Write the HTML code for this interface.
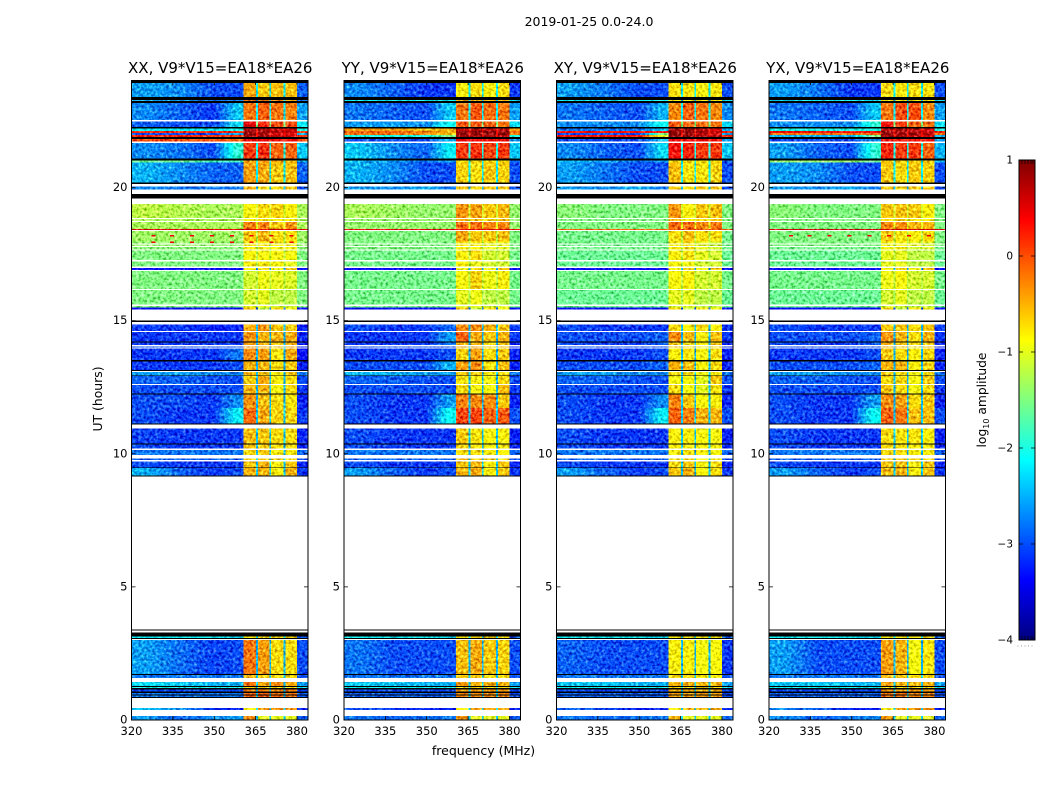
<!DOCTYPE html>
<html lang="en"><head><meta charset="utf-8"><title>2019-01-25 dynamic spectra</title>
<style>html,body{margin:0;padding:0;background:#fff}svg{display:block}text{font-family:"DejaVu Sans","Liberation Sans",sans-serif;fill:#000}</style>
</head><body>
<svg id="chart" xmlns="http://www.w3.org/2000/svg" width="1050" height="800" viewBox="0 0 1050 800">
<defs>
<filter id="speckle" x="0" y="0" width="100%" height="100%" color-interpolation-filters="sRGB">
<feTurbulence type="fractalNoise" baseFrequency="0.36" numOctaves="2" seed="7" result="n"/>
<feColorMatrix in="n" type="matrix" values="1 0 0 0 0 1 0 0 0 0 1 0 0 0 0 0 0 0 0 1" result="g"/>
<feComposite in="SourceGraphic" in2="g" operator="arithmetic" k1="0" k2="1" k3="1" k4="-0.5"/>
</filter>
</defs>
<text x="589" y="26" font-size="12.5" text-anchor="middle">2019-01-25 0.0-24.0</text>
<text transform="translate(102,399) rotate(-90)" font-size="12.4" text-anchor="middle">UT (hours)</text>
<text x="483.5" y="755" font-size="12.5" text-anchor="middle">frequency (MHz)</text>
<text transform="translate(986,400) rotate(-90)" font-size="12.3" text-anchor="middle">log<tspan font-size="8" dy="3">10</tspan><tspan dy="-3"> amplitude</tspan></text>
<g id="panels"></g>
<g id="colorbar"></g>
</svg>
<script>
const panelTitles = ["XX, V9*V15=EA18*EA26","YY, V9*V15=EA18*EA26","XY, V9*V15=EA18*EA26","YX, V9*V15=EA18*EA26"];
const xTickLabels = [320,335,350,365,380];
const yTickLabels = [0,5,10,15,20];
const colorbarTicks = [1,0,-1,-2,-3,-4];
const freqEdgesMHz = [320,331,345,355,360.6,365.2,365.8,370,370.6,375.2,375.8,380,384];
const rowEdgesUT = [24,23.925,23.399,23.286,23.249,23.174,22.535,22.486,22.272,22.208,22.122,22.047,21.972,21.897,21.822,21.72,21.671,21.082,21.006,20.94,20.18,20.131,20.03,19.932,19.756,19.58,19.38,18.854,18.817,18.742,18.704,18.441,18.404,18.366,17.965,17.904,17.852,17.803,17.765,17.679,17.641,17.277,17.228,17.025,16.976,16.901,16.864,16.188,16.15,15.613,15.549,15.5,15.425,14.997,14.948,14.854,14.61,14.573,14.223,14.185,14.085,14.02,13.998,13.96,13.521,13.472,13.146,13.108,13.07,12.946,12.92,12.62,12.582,12.255,12.218,11.72,11.144,11.091,10.941,10.392,10.355,10.19,10.141,9.953,9.814,9.765,9.701,9.491,9.465,9.176,9.138,3.406,3.354,3.294,3.129,3.08,3.042,3.005,1.728,1.69,1.577,1.427,1.277,1.239,1.202,1.146,1.071,1.014,0.958,0.92,0.864,0.826,0.451,0.376,0.15,0];
const rowKinds = ["kdkdkdwdk","dddd","kdwdk","dd","kwdwkw","dwdwddw","ddw","dwdwdwdwdwdwdw","ddwkw","dwdkdwdwdkdkw","dkdwdk","ddkw","dkdwdwdwdkdkwkwk","dkwdkdwdkdkdkdkdkwdwd"].join("").split("");
const gapLevels = [-2.2,-2.5,-2.2,-1.5,0.3,0.3,0.3,0.3,0.2,-2,-2,-2.2,-2.5,-1.1,-1.1,-1,0.5,-1.2,-1.2,-1.2,-1.2,-1.2,-1.2,-2.6,-1.2,-1.3,-1.3,-3,-2.5,-2.5,-2.5,-2.5,-2.5,-2.5,-2.4,-2.5,-2.5,-2.5,-2.4,-2.4,-2.5,-2.5,-2.4,-2.4,-2.4,-2.2,-2.5,-2.4,-2.4,-2.2,-2.4,-2.4,-2.4,-2.4,-2.4];
const levelsXX = [
[-2.6,-2.7,-3,-3,-.45,-.6,-.55,-.55,-2.9],[-2.6,-2.6,-2.8,-2.8,-.2,-.3,-.3,-.5,-2.8],[-2.7,-2.9,-3.1,-2.4,-.2,-.1,-.2,-.25,-2.6],[-2.9,-3,-3,-2.3,.5,.2,0,0,-2.2],
[-2.2,-2.2,-2.2,-2,.8,.8,.6,.6,-2],[.2,.2,.2,.2,.85,.85,.7,.6,.1],[-3,-3,-3,-2.5,.85,.8,.6,.6,-2.5],[.2,.2,.1,.1,.8,.8,.7,.6,.1],[0,0,0,-.1,.4,.4,.3,.3,0],
[-2.7,-2.8,-3,-1.9,.1,.15,-.1,-.1,-2.4],[-1.6,-1.6,-1.8,-1.8,-.4,-.3,-.4,-.5,-2.5],[-2.5,-2.7,-2.9,-2.9,-.4,-.45,-.6,-.55,-2.9],[-2.7,-2.8,-2.8,-2.8,-.5,-.7,-.7,-.6,-3],
[-1.2,-1.25,-1.3,-1.3,-.85,-.7,-.65,-.8,-1.3],[-1.3,-1.3,-1.3,-1.3,-.9,-.8,-.85,-.85,-1.3],[-1.3,-1.3,-1.3,-1.3,-.25,-.25,-.6,-.35,-1.3],[.5,.5,.5,.5,.5,.5,.5,.5,.5],
[-1.35,-1.35,-1.35,-1.35,-.6,-.5,-.7,-.7,-1.35],[-1.4,-1.4,-1.4,-1.4,-.8,-.8,-.8,-.8,-1.4],[-1.4,-1.4,-1.4,-1.4,-.8,-.8,-.85,-.85,-1.4],[-1.45,-1.45,-1.45,-1.45,-.8,-.8,-.85,-.9,-1.45],[-1.5,-1.5,-1.5,-1.5,-.85,-.85,-.85,-.9,-1.5],[-1.5,-1.5,-1.5,-1.5,-.8,-.8,-.85,-1,-1.5],
[-3.3,-3.3,-3.3,-3.3,-.9,-.7,-.9,-.6,-3.3],[-1.5,-1.5,-1.5,-1.5,-1.1,-.95,-1,-1.05,-1.5],[-1.5,-1.5,-1.5,-1.5,-1.1,-1,-1.2,-1.2,-1.5],[-1.5,-1.5,-1.5,-1.5,-1,-1,-1.1,-1.1,-1.5],[-3.4,-3.4,-3.4,-3.4,-.6,-1.2,-.7,-.9,-3.4],
[-3.1,-3.1,-3.2,-3.2,-.45,-.35,-.6,-.6,-3.2],[-3.1,-3.1,-3.1,-3.1,-.35,-.5,-.5,-.45,-3.2],[-3.1,-3.1,-3.1,-3.1,-.4,-.5,-.6,-.5,-3.2],[-3,-3,-3,-3,-.4,-.5,-.6,-.5,-3.2],[-3.1,-3.1,-3.1,-2.8,-.3,-.4,-.75,-.45,-3.3],[-3.1,-3.1,-3.1,-3,-.5,-.5,-.7,-.6,-3.2],
[-2.6,-2.6,-2.7,-2.7,-.5,-.6,-.8,-.6,-2.8],[-2.9,-2.9,-3,-3,-.65,-.45,-.8,-.7,-3],[-3,-3,-3,-3,-.5,-.5,-.85,-.7,-3.1],[-3,-3,-3.1,-2.7,-.35,-.55,-.7,-.75,-3.2],[-3,-3.1,-3.1,-2.2,-.15,-.45,-.65,-.65,-3.1],
[-3.05,-3.1,-3.1,-3.1,-.55,-.6,-.7,-.7,-3.2],[-3,-3.1,-3.1,-3.1,-.6,-.6,-.7,-.7,-3.2],[-2.8,-2.8,-2.8,-2.8,-.7,-.6,-.8,-.8,-2.9],[-2.9,-2.9,-2.9,-2.9,-.6,-.6,-.7,-.7,-3],[-3,-3.1,-3.1,-3.1,-.6,-.5,-.8,-.6,-3.2],[-2.5,-2.9,-3.1,-3,-.5,-.5,-.8,-.5,-3.1],
[-2.2,-2.2,-2.2,-2.3,-.8,-.7,-.7,-.7,-2.9],[-2.6,-2.85,-3.05,-3,-.2,-.4,-.7,-.7,-3],[-2.8,-2.8,-2.8,-2.8,-.5,-.6,-.7,-.7,-3],[-2.3,-2.4,-2.5,-2.5,-.2,-.45,-.3,-.45,-2.6],[-2,-2,-2,-2,-.7,-.7,-.7,-.7,-2.3],
[-3,-3,-3,-3,-.25,-.25,-.3,-.25,-3],[-2.8,-2.8,-2.8,-2.8,-.1,-.1,-.2,-.2,-2.9],[-2.8,-2.8,-2.8,-2.8,-.1,-.1,-.15,-.2,-2.9],[-2.4,-2.7,-3.1,-3.2,-.8,-.35,-.35,-.35,-3.2],[-2.6,-2.9,-2.7,-2.6,-.3,-1,-1,-1,-2.9]];
const levelsYY = [
[-2.7,-2.9,-3.1,-3.1,-.8,-.7,-.8,-.7,-3.1],[-2.2,-2.2,-2.2,-2.2,-.5,-.5,-.5,-.5,-2.3],[-2.8,-2.9,-3,-2.4,-.2,-.05,-.15,-.2,-2.6],[-2.6,-2.6,-2.7,-2.1,-.05,-.05,-.1,-.2,-2.3],
[-.4,-.4,-.6,-.5,.7,.75,.7,.7,-.4],[-.1,-.1,-.3,-.5,.9,.9,.9,.9,-.1],[-.2,-.2,-.3,-.6,.9,.9,.9,.85,-.3],[-2,-2,-2,-1.5,.8,.8,.8,.7,-2],[-3,-3,-3,-2.5,.4,.4,.3,.3,-2.6],
[-2.4,-2.7,-2.9,-2.2,.1,.15,.05,.1,-2.4],[-2.5,-2.6,-2.8,-2.6,-.7,-.7,-.7,-.7,-2.9],[-2.5,-2.7,-3,-3,-.65,-.7,-.6,-.65,-3],[-2.6,-2.7,-2.5,-2.8,-.6,-.7,-.6,-.6,-3],
[-1.3,-1.35,-1.4,-1.4,-.35,-.4,-.6,-.5,-1.4],[-1.4,-1.4,-1.4,-1.4,-.5,-.6,-.7,-.6,-1.4],[-1.4,-1.4,-1.4,-1.4,-.15,-.15,-.25,-.25,-1.4],[.5,.5,.5,.5,.5,.5,.5,.5,.5],
[-1.5,-1.5,-1.5,-1.5,-.45,-.6,-.6,-.55,-1.5],[-1.5,-1.5,-1.5,-1.5,-.7,-.8,-.9,-.9,-1.5],[-1.5,-1.5,-1.5,-1.5,-.8,-.8,-1,-1,-1.5],[-1.5,-1.5,-1.5,-1.5,-.8,-.85,-1,-1,-1.5],[-1.55,-1.55,-1.55,-1.55,-.8,-.7,-1.1,-1.1,-1.55],[-1.55,-1.55,-1.55,-1.55,-.8,-.95,-1.1,-1.1,-1.55],
[-3.3,-3.3,-3.3,-3.3,-.9,-.7,-.9,-.6,-3.3],[-1.55,-1.55,-1.55,-1.55,-.85,-.65,-.95,-.8,-1.55],[-1.55,-1.55,-1.55,-1.55,-1,-.95,-1.2,-1.2,-1.55],[-1.55,-1.55,-1.55,-1.55,-1.1,-1,-1.1,-1.1,-1.55],[-3.4,-3.4,-3.4,-3.4,-.6,-1.2,-.7,-.9,-3.4],
[-3,-3.1,-3.1,-2.9,-.3,-.3,-.5,-.6,-3.1],[-3.1,-3.1,-3.1,-2.6,-.1,-.45,-.6,-.5,-3.1],[-3.1,-3.1,-3.1,-2.8,-.5,-.5,-.7,-.6,-3.2],[-3,-3,-3,-3,-.5,-.5,-.7,-.6,-3.2],[-3.1,-3.1,-3.1,-3,-.65,-.4,-.7,-.6,-3.2],[-3,-3,-3,-2.5,-.4,-.3,-.75,-.55,-3.2],
[-2.5,-2.5,-2.6,-2.6,-.6,-.6,-.8,-.7,-2.8],[-2.9,-2.9,-3,-3,-.75,-.8,-.9,-.7,-3],[-3,-3,-3,-3,-.7,-.85,-.9,-.55,-3.1],[-3,-3.1,-3.1,-2.6,-.25,-.3,-.3,-.6,-3.2],[-3,-3.1,-3.1,-2.1,.05,.05,-.1,-.05,-3],
[-3,-3.1,-3.1,-3.1,-.6,-.75,-.85,-.8,-3.2],[-3,-3.1,-3.1,-3.1,-.65,-.75,-.85,-.8,-3.2],[-2.8,-2.8,-2.8,-2.8,-.7,-.7,-.8,-.8,-2.9],[-2.9,-2.9,-2.9,-2.9,-.5,-.6,-.7,-.7,-3],[-3,-3.1,-3.1,-3.1,-.6,-.5,-.8,-.6,-3.2],[-2.6,-2.9,-3.1,-3,-.5,-.45,-.8,-.6,-3.1],
[-2.2,-2.2,-2.2,-2.3,-.8,-.7,-.7,-.7,-2.9],[-2.8,-3,-3,-3,-.55,-.45,-.6,-.65,-3],[-2.8,-2.8,-2.8,-2.8,-.6,-.6,-.7,-.7,-3],[-2.4,-2.4,-2.5,-2.5,-.4,-.5,-.5,-.5,-2.6],[-2.1,-2.1,-2.1,-2.1,-.7,-.7,-.7,-.7,-2.3],
[-3,-3,-3,-3,-.4,-.4,-.4,-.4,-3],[-2.9,-2.9,-2.9,-2.9,-.3,-.3,-.3,-.3,-3],[-2.9,-2.9,-2.9,-2.9,-.3,-.3,-.3,-.3,-3],[-3,-3.1,-3.2,-3.2,-.8,-.4,-.4,-.4,-3.2],[-2.8,-2.9,-2.8,-2.8,-.4,-1,-1,-1,-2.9]];
const levelsXY = [
[-2.6,-2.8,-3,-3,-.7,-.75,-.8,-.75,-3],[-2.2,-2.2,-2.2,-2.2,-.8,-.8,-.8,-.8,-2.3],[-2.8,-2.9,-3,-2.5,-.3,-.1,-.2,-.3,-2.7],[-2.7,-2.7,-2.7,-2.1,-.05,-.1,-.15,-.2,-2.3],
[-2.8,-2.8,-2.8,-2.4,.8,.85,.7,.5,-2.5],[.3,.3,.3,.3,.9,.9,.8,.7,.2],[-3,-3,-3,-1.5,.9,.85,.7,.6,-2.5],[.3,.3,.3,-1,.9,.9,.8,.7,.2],[-3,-3,-3,-2.5,.4,.4,.3,.3,-2.6],
[-2.7,-2.9,-3,-2.3,.3,.2,.1,.1,-2.4],[-2.5,-2.6,-2.8,-2.6,-.7,-.7,-.7,-.7,-2.9],[-2.6,-2.8,-3,-3,-.55,-.75,-.75,-.65,-3],[-2.6,-2.7,-2.5,-2.8,-.6,-.7,-.6,-.6,-3],
[-1.45,-1.5,-1.5,-1.5,-.35,-.8,-.6,-.55,-1.5],[-1.5,-1.5,-1.5,-1.5,-.5,-.8,-.7,-.6,-1.5],[-1.5,-1.5,-1.5,-1.5,-.15,-.15,-.3,-.2,-1.5],[-.1,-.1,-.1,-.1,-.1,-.1,-.1,-.1,-.1],
[-1.55,-1.55,-1.55,-1.55,-.7,-.55,-.7,-.7,-1.55],[-1.55,-1.55,-1.55,-1.55,-.8,-.7,-1,-1.1,-1.55],[-1.55,-1.55,-1.55,-1.55,-.8,-.75,-1,-1.1,-1.55],[-1.55,-1.55,-1.55,-1.55,-.8,-.75,-1,-1.1,-1.55],[-1.6,-1.6,-1.6,-1.6,-.8,-.75,-1,-1.1,-1.6],[-1.6,-1.6,-1.6,-1.6,-.85,-.9,-1.1,-1.1,-1.6],
[-3.3,-3.3,-3.3,-3.3,-.9,-.7,-.9,-.6,-3.3],[-1.55,-1.55,-1.55,-1.55,-.85,-.8,-1.1,-1.1,-1.55],[-1.6,-1.6,-1.6,-1.6,-1,-1,-1.2,-1.2,-1.6],[-1.6,-1.6,-1.6,-1.6,-1.1,-1,-1.2,-1.2,-1.6],[-3.4,-3.4,-3.4,-3.4,-.7,-1.2,-.7,-.9,-3.4],
[-3,-3.1,-3.1,-3.1,-.7,-.8,-.7,-.8,-3.1],[-3,-3,-3,-2.9,-.3,-.55,-.8,-.55,-3.1],[-3,-3.1,-3.1,-2.9,-.6,-.7,-.8,-.6,-3.2],[-3,-3,-3,-3,-.6,-.7,-.8,-.7,-3.2],[-3.1,-3.1,-3.1,-3,-.8,-.75,-.85,-.7,-3.2],[-3,-3,-3,-2.9,-.5,-.55,-.85,-.7,-3.2],
[-2.6,-2.6,-2.7,-2.7,-.7,-.7,-.9,-.8,-2.8],[-2.9,-2.9,-3,-3,-.9,-.9,-1,-.6,-3],[-3,-3,-3,-3,-.7,-.9,-1,-.75,-3.1],[-3,-3.1,-3.1,-2.7,-.25,-.6,-.85,-.8,-3.2],[-3,-3.1,-3.1,-2.2,-.1,-.25,-.5,-.5,-3],
[-3,-3.1,-3.1,-3.1,-.8,-.8,-.85,-.85,-3.2],[-3,-3.1,-3.1,-3.1,-.8,-.8,-.85,-.85,-3.2],[-2.8,-2.8,-2.8,-2.8,-.8,-.75,-.8,-.85,-2.9],[-2.9,-2.9,-2.9,-2.9,-.7,-.7,-.8,-.8,-3],[-3,-3.1,-3.1,-3.1,-.7,-.6,-.85,-.7,-3.2],[-2.6,-2.9,-3.1,-3,-.6,-.5,-.85,-.7,-3.1],
[-2.2,-2.2,-2.2,-2.3,-.8,-.8,-.8,-.8,-2.9],[-2.9,-3,-3,-3,-.8,-.8,-.9,-.85,-3.1],[-2.8,-2.8,-2.8,-2.8,-.7,-.7,-.8,-.8,-3],[-2.4,-2.4,-2.5,-2.5,-.5,-.5,-.5,-.5,-2.6],[-2.1,-2.1,-2.1,-2.1,-.7,-.7,-.7,-.7,-2.3],
[-3,-3,-3,-3,-.5,-.5,-.5,-.5,-3],[-2.9,-2.9,-2.9,-2.9,-.4,-.4,-.4,-.4,-3],[-2.9,-2.9,-2.9,-2.9,-.4,-.4,-.4,-.4,-3],[-2.9,-3,-3.2,-3.2,-.8,-.5,-.5,-.5,-3.2],[-2.8,-2.9,-2.8,-2.8,-.5,-1,-1,-1,-2.9]];
const levelsYX = [
[-2.6,-2.8,-3.1,-3.1,-.7,-.75,-.7,-.75,-3],[-2.3,-2.3,-2.3,-2.3,-.8,-.8,-.8,-.8,-2.4],[-2.8,-2.9,-3,-2.4,-.2,0,0,-.3,-2.6],[-2.7,-2.7,-2.7,-1.9,.3,.1,-.1,-.2,-2.3],
[-2,-2,-2,-2,.7,.8,.7,.5,-2],[.3,.3,.3,.3,.9,.85,.8,.7,.2],[-.2,-.2,-.2,-.1,.9,.8,.8,.7,-.2],[-2.5,-2.5,-2.5,-1.5,.8,.8,.7,.6,-2.5],[-3,-3,-3,-2.6,.3,.3,.3,.3,-2.6],
[-2.6,-2.9,-3,-1.9,.2,.1,.1,-.1,-2.5],[-1.4,-1.4,-1.4,-1.6,-.6,-.6,-.6,-.6,-2.5],[-2.6,-2.7,-3,-3,-.6,-.7,-.6,-.65,-3],[-2.6,-2.7,-2.5,-2.8,-.6,-.7,-.6,-.6,-3],
[-1.45,-1.5,-1.5,-1.5,-.6,-.55,-.6,-.8,-1.5],[-1.5,-1.5,-1.5,-1.5,-.7,-.7,-.8,-.85,-1.5],[-1.5,-1.5,-1.5,-1.5,-.3,-.3,-.5,-.5,-1.5],[.6,.6,.6,.6,.6,.6,.6,.6,.6],
[-1.5,-1.5,-1.5,-1.5,-.6,-.75,-.8,-.7,-1.5],[-1.5,-1.5,-1.5,-1.5,-.85,-.85,-1,-1,-1.5],[-1.5,-1.5,-1.5,-1.5,-.9,-.85,-1,-1.1,-1.5],[-1.55,-1.55,-1.55,-1.55,-.9,-.85,-1.1,-1.1,-1.55],[-1.6,-1.6,-1.6,-1.6,-1,-1,-1.2,-1.2,-1.6],[-1.6,-1.6,-1.6,-1.6,-1,-1,-1.2,-1.2,-1.6],
[-3.3,-3.3,-3.3,-3.3,-.9,-.7,-.9,-.6,-3.3],[-1.55,-1.55,-1.55,-1.55,-.95,-.85,-1.1,-1.1,-1.55],[-1.6,-1.6,-1.6,-1.6,-1.1,-1,-1.2,-1.2,-1.6],[-1.6,-1.6,-1.6,-1.6,-1.1,-1.1,-1.2,-1.2,-1.6],[-3.4,-3.4,-3.4,-3.4,-.7,-1.2,-.7,-.9,-3.4],
[-3,-3.1,-3.1,-3.1,-.6,-.6,-.7,-.6,-3.1],[-3,-3,-3,-2.9,-.35,-.5,-.7,-.5,-3.1],[-3,-3.1,-3.1,-2.9,-.5,-.6,-.7,-.6,-3.2],[-3,-3,-3,-3,-.5,-.6,-.7,-.6,-3.2],[-3.1,-3.1,-3.1,-3,-.6,-.7,-.8,-.7,-3.2],[-3,-3,-3,-2.9,-.5,-.5,-.8,-.65,-3.2],
[-2.6,-2.6,-2.7,-2.7,-.6,-.7,-.9,-.7,-2.8],[-2.9,-2.9,-3,-3,-.7,-.7,-.9,-.6,-3],[-3,-3,-3,-3,-.6,-.7,-.9,-.7,-3.1],[-3,-3.1,-3.1,-2.6,-.3,-.4,-.7,-.6,-3.2],[-3,-3.1,-3.1,-2.1,-.1,-.2,-.55,-.55,-3],
[-3,-3.1,-3.1,-3.1,-.7,-.75,-.75,-.8,-3.2],[-3,-3.1,-3.1,-3.1,-.7,-.75,-.8,-.8,-3.2],[-2.8,-2.8,-2.8,-2.8,-.7,-.7,-.8,-.8,-2.9],[-2.9,-2.9,-2.9,-2.9,-.6,-.6,-.7,-.7,-3],[-3,-3.1,-3.1,-3.1,-.6,-.55,-.8,-.6,-3.2],[-2.6,-2.9,-3.1,-3,-.55,-.5,-.8,-.6,-3.1],
[-2.2,-2.2,-2.2,-2.3,-.8,-.75,-.75,-.75,-2.9],[-2.6,-3,-3,-3,-.4,-.5,-.9,-.75,-3],[-2.8,-2.8,-2.8,-2.8,-.5,-.6,-.7,-.7,-3],[-2.4,-2.4,-2.5,-2.5,-.4,-.5,-.5,-.5,-2.6],[-2.1,-2.1,-2.1,-2.1,-.7,-.7,-.7,-.7,-2.3],
[-3,-3,-3,-3,-.4,-.4,-.4,-.4,-3],[-2.9,-2.9,-2.9,-2.9,-.2,-.2,-.3,-.3,-3],[-2.9,-2.9,-2.9,-2.9,-.2,-.2,-.3,-.3,-3],[-2.7,-2.9,-3.2,-3.2,-.8,-.4,-.4,-.4,-3.2],[-2.7,-2.9,-2.8,-2.7,-.4,-1,-1,-1,-2.9]];
const spikeFreqsMHz = [327.2,334,341.2,348.5,355.7,362.8,370,377.3];
const spikeHoursXX = [18.18,17.93];
const spikeHoursYX = [18.18];
const spikeLevel = 0.45;

const NS = "http://www.w3.org/2000/svg";
const panelLefts = [131.5,344,556.5,769];
const panelWidth = 176.5, panelTop = 81, panelBottom = 720;
const allLevels = [levelsXX,levelsYY,levelsXY,levelsYX];
const allSpikes = [spikeHoursXX,[],[],spikeHoursYX];
const bandOfColumn = [0,1,2,3,4,-1,5,-1,6,-1,7,8];

function jet(v){
  const t = Math.max(0,Math.min(1,(v+4)/5));
  const ch = d => Math.round(255*Math.max(0,Math.min(1,1.5-Math.abs(4*t-d))));
  return "rgb("+ch(3)+","+ch(2)+","+ch(1)+")";
}
function yOf(h){ return panelBottom-(h/24)*(panelBottom-panelTop); }
function make(tag,parent,attrs){
  const el = document.createElementNS(NS,tag);
  for(const k in attrs) el.setAttribute(k,attrs[k]);
  parent.appendChild(el);
  return el;
}
// Colour across the continuum (first four columns) blends between column centres, as imshow smoothing does.
function continuumLevel(vals,f){
  const centres = [0,1,2,3].map(c=>(freqEdgesMHz[c]+freqEdgesMHz[c+1])/2);
  if(f<=centres[0]) return vals[0];
  if(f>=centres[3]) return vals[3];
  for(let i=0;i<3;i++){
    if(f<=centres[i+1]){
      const a=(f-centres[i])/(centres[i+1]-centres[i]);
      return vals[i]+(vals[i+1]-vals[i])*a;
    }
  }
  return vals[3];
}
const panelsRoot = document.getElementById("panels");
panelTitles.forEach((title,p)=>{
  const left = panelLefts[p];
  const xOf = f => left+((f-320)/64)*panelWidth;
  const panel = make("g",panelsRoot,{});
  
  
  const cells = make("g",panel,{filter:"url(#speckle)","shape-rendering":"crispEdges"});
  
  
  const masks = make("g",panel,{"shape-rendering":"crispEdges"});
  
  
  let dataRow = 0;
  rowKinds.forEach((kind,r)=>{
    const y0 = yOf(rowEdgesUT[r]), y1 = yOf(rowEdgesUT[r+1]);
    if(kind==="d"){
      const vals = allLevels[p][dataRow];
      const contEnd = freqEdgesMHz[4];
      for(let f=freqEdgesMHz[0];f<contEnd;f+=1.6){
        const fEnd = Math.min(f+1.6,contEnd);
        const slice = make("rect",cells,{x:xOf(f),y:y0,width:xOf(fEnd)-xOf(f)+0.3,height:y1-y0,fill:jet(continuumLevel(vals,(f+fEnd)/2))});
        
        
      }
      for(let c=4;c<freqEdgesMHz.length-1;c++){
        const b = bandOfColumn[c];
        const v = b<0 ? gapLevels[dataRow] : vals[b];
        const cell = make("rect",cells,{x:xOf(freqEdgesMHz[c]),y:y0,width:xOf(freqEdgesMHz[c+1])-xOf(freqEdgesMHz[c]),height:y1-y0,fill:jet(v)});
        
        
      }
      dataRow++;
    } else {
      const strip = make("rect",masks,{x:left,y:y0,width:panelWidth,height:y1-y0,fill:kind==="k"?"#000":"#fff"});
      
      
    }
  });
  allSpikes[p].forEach(h=>spikeFreqsMHz.forEach(f=>{
    const spike = make("rect",masks,{x:xOf(f),y:yOf(h)-1,width:4,height:1.6,fill:jet(spikeLevel)});
    
    
  }));
  const frame = make("rect",panel,{x:left,y:panelTop-0.5,width:panelWidth,height:panelBottom-panelTop+0.5,fill:"none",stroke:"#000","stroke-width":1});
  
  
  const t = make("text",panel,{x:left+panelWidth/2+0.5,y:73,"font-size":15,"text-anchor":"middle"});
  t.textContent = title;
  
  
  xTickLabels.forEach(f=>{
    const x = xOf(f);
    const tick = make("path",panel,{d:"M"+x+" "+panelBottom+"v-4M"+x+" "+panelTop+"v4",stroke:"#000","stroke-width":0.8,fill:"none"});
    
    
    const lab = make("text",panel,{x:x,y:735,"font-size":11.5,"text-anchor":"middle"});
    lab.textContent = f;
    
    
  });
  yTickLabels.forEach(h=>{
    const y = yOf(h);
    const tick = make("path",panel,{d:"M"+left+" "+y+"h4M"+(left+panelWidth)+" "+y+"h-4",stroke:"#000","stroke-width":0.8,fill:"none"});
    
    
    const lab = make("text",panel,{x:left-4,y:y+3.5,"font-size":11.5,"text-anchor":"end"});
    lab.textContent = h;
    
    
  });
});
const cb = document.getElementById("colorbar");
const cbTop = 160, cbBottom = 640, cbLeft = 1019, cbWidth = 16;
const cbY = v => cbTop+((1-v)/5)*(cbBottom-cbTop);
for(let i=0;i<240;i++){
  const v = 1-(i+0.5)/48;
  const s = make("rect",cb,{x:cbLeft,y:cbTop+i*2,width:cbWidth,height:2.2,fill:jet(v),"shape-rendering":"crispEdges"});
  
  
}
colorbarTicks.forEach(v=>{
  const y = cbY(v);
  const tick = make("path",cb,{d:"M"+cbLeft+" "+y+"h4M"+(cbLeft+cbWidth)+" "+y+"h-4",stroke:"#000","stroke-width":0.8,fill:"none"});
  
  
  const lab = make("text",cb,{x:1013,y:y+3.5,"font-size":10.5,"text-anchor":"end"});
  lab.textContent = String(v).replace("-","\u2212");
  
  
});
const minorTop = make("path",cb,{d:"M1022 160v4M1025 160v4M1028 160v4M1031 160v4M1033 160v4M1022 640v-4M1025 640v-4M1028 640v-4M1031 640v-4M1033 640v-4",stroke:"#000","stroke-width":0.7,fill:"none"});


const cbFrame = make("rect",cb,{x:cbLeft,y:cbTop,width:cbWidth,height:cbBottom-cbTop,fill:"none",stroke:"#000","stroke-width":1});


const dots = make("path",cb,{d:"M1017.5 646H1035",stroke:"#999","stroke-width":1,"stroke-dasharray":"1 2.5",fill:"none"});


</script>
</body></html>
